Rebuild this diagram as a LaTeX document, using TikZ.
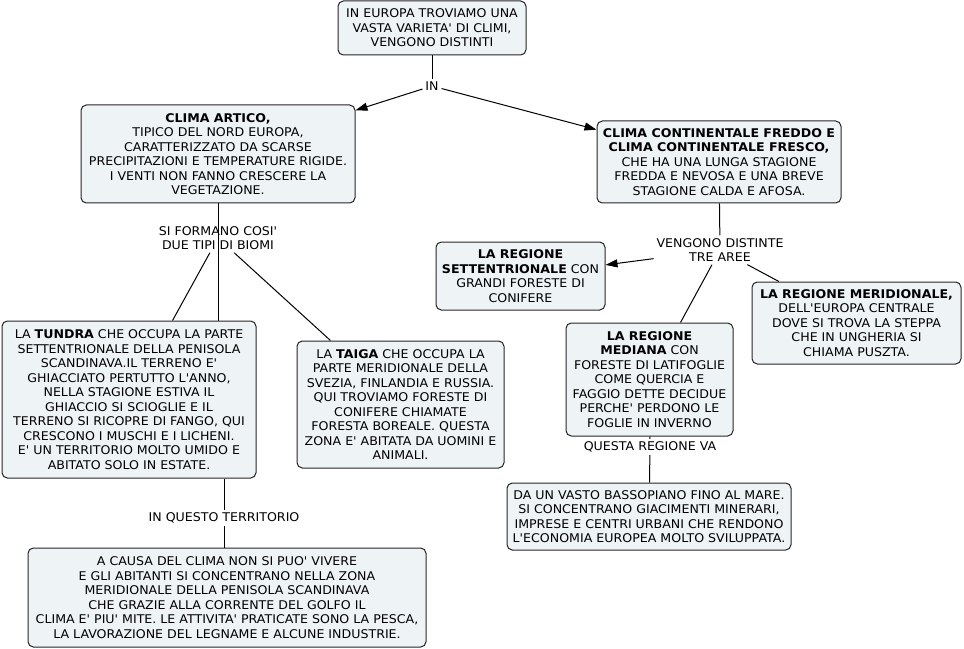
\documentclass[tikz,border=0pt]{standalone}
\usepackage{fontspec}
\setmainfont{DejaVu Sans}[Ligatures=TeXOff, FakeStretch=1.05]
\usetikzlibrary{arrows.meta,calc}
\definecolor{boxfill}{HTML}{EEF3F5}
\begin{document}
\begin{tikzpicture}[x=0.75pt,y=-0.75pt]
\tikzset{
 cbox/.style={draw=black!85, line width=0.75pt, fill=boxfill, rounded corners=4pt, align=center, inner sep=0pt, font=\fontsize{9}{10.9}\selectfont},
 lbl/.style={align=center, inner sep=2pt, font=\fontsize{9}{10.9}\selectfont},
 conn/.style={draw=black, line width=0.75pt},
 arr/.style={conn, -{Triangle[length=9pt,width=6pt]}}
}
\useasboundingbox (0,0) rectangle (964,649);

\node[cbox, minimum width=141pt, minimum height=40.5pt] (top) at (432,28) {IN EUROPA TROVIAMO UNA\\VASTA VARIETA' DI CLIMI,\\VENGONO DISTINTI};
\node[lbl] (in) at (432,86) {IN};
\node[cbox, minimum width=205.5pt, minimum height=73.5pt] (artico) at (218,154) {\textbf{CLIMA ARTICO,}\\TIPICO DEL NORD EUROPA,\\CARATTERIZZATO DA SCARSE\\PRECIPITAZIONI E TEMPERATURE RIGIDE.\\I VENTI NON FANNO CRESCERE LA\\VEGETAZIONE.};
\node[cbox, minimum width=183pt, minimum height=61.5pt] (cont) at (719,162) {\textbf{CLIMA CONTINENTALE FREDDO E}\\\textbf{CLIMA CONTINENTALE FRESCO,}\\CHE HA UNA LUNGA STAGIONE\\FREDDA E NEVOSA E UNA BREVE\\STAGIONE CALDA E AFOSA.};
\node[lbl] (sifo) at (218,238) {SI FORMANO COSI'\\DUE TIPI DI BIOMI};
\node[lbl] (veng) at (720,250) {VENGONO DISTINTE\\TRE AREE};
\node[cbox, minimum width=126.75pt, minimum height=51pt] (sett) at (520.5,276) {\textbf{LA REGIONE}\\\textbf{SETTENTRIONALE} CON\\GRANDI FORESTE DI\\CONIFERE};
\node[cbox, minimum width=156.75pt, minimum height=61.5pt] (merid) at (856.5,323) {\textbf{LA REGIONE MERIDIONALE,}\\DELL'EUROPA CENTRALE\\DOVE SI TROVA LA STEPPA\\CHE IN UNGHERIA SI\\CHIAMA PUSZTA.};
\node[cbox, minimum width=125.25pt, minimum height=84.75pt] (med) at (649.5,379.5) {\textbf{LA REGIONE}\\\textbf{MEDIANA} CON\\FORESTE DI LATIFOGLIE\\COME QUERCIA E\\FAGGIO DETTE DECIDUE\\PERCHE' PERDONO LE\\FOGLIE IN INVERNO};
\node[lbl] (questa) at (650,447) {QUESTA REGIONE VA};
\node[cbox, minimum width=213pt, minimum height=50.25pt] (bassop) at (649,516.5) {DA UN VASTO BASSOPIANO FINO AL MARE.\\SI CONCENTRANO GIACIMENTI MINERARI,\\IMPRESE E CENTRI URBANI CHE RENDONO\\L'ECONOMIA EUROPEA MOLTO SVILUPPATA.};
\node[cbox, minimum width=190.5pt, minimum height=117.75pt] (tundra) at (129,399.5) {LA \textbf{TUNDRA} CHE OCCUPA LA PARTE\\SETTENTRIONALE DELLA PENISOLA\\SCANDINAVA.IL TERRENO E'\\GHIACCIATO PERTUTTO L'ANNO,\\NELLA STAGIONE ESTIVA IL\\GHIACCIO SI SCIOGLIE E IL\\TERRENO SI RICOPRE DI FANGO, QUI\\CRESCONO I MUSCHI E I LICHENI.\\E' UN TERRITORIO MOLTO UMIDO E\\ABITATO SOLO IN ESTATE.};
\node[cbox, minimum width=155.25pt, minimum height=95.25pt] (taiga) at (400.5,404.5) {LA \textbf{TAIGA} CHE OCCUPA LA\\PARTE MERIDIONALE DELLA\\SVEZIA, FINLANDIA E RUSSIA.\\QUI TROVIAMO FORESTE DI\\CONIFERE CHIAMATE\\FORESTA BOREALE. QUESTA\\ZONA E' ABITATA DA UOMINI E\\ANIMALI.};
\node[lbl] (inq) at (224,518) {IN QUESTO TERRITORIO};
\node[cbox, minimum width=298.5pt, minimum height=74.25pt] (causa) at (227,597.5) {A CAUSA DEL CLIMA NON SI PUO' VIVERE\\E GLI ABITANTI SI CONCENTRANO NELLA ZONA\\MERIDIONALE DELLA PENISOLA SCANDINAVA\\CHE GRAZIE ALLA CORRENTE DEL GOLFO IL\\CLIMA E' PIU' MITE. LE ATTIVITA' PRATICATE SONO LA PESCA,\\LA LAVORAZIONE DEL LEGNAME E ALCUNE INDUSTRIE.};

\draw[conn] (top) -- (in);
\draw[arr] (in) -- (artico);
\draw[arr] (in) -- (cont);
\draw[conn] (artico.south) -- (artico.south |- tundra.north);
\draw[conn] (sifo) -- (tundra);
\draw[conn] (sifo) -- (taiga);
\draw[conn] (inq) -- (inq |- tundra.south);
\draw[conn] (inq) -- (inq |- causa.north);
\draw[conn] (cont) -- (veng);
\draw[arr] (veng) -- (sett);
\draw[conn] (veng) -- (med);
\draw[conn] (veng) -- (merid);
\draw[conn] (med) -- (questa);
\draw[conn] (questa) -- (bassop);
\end{tikzpicture}
\end{document}
